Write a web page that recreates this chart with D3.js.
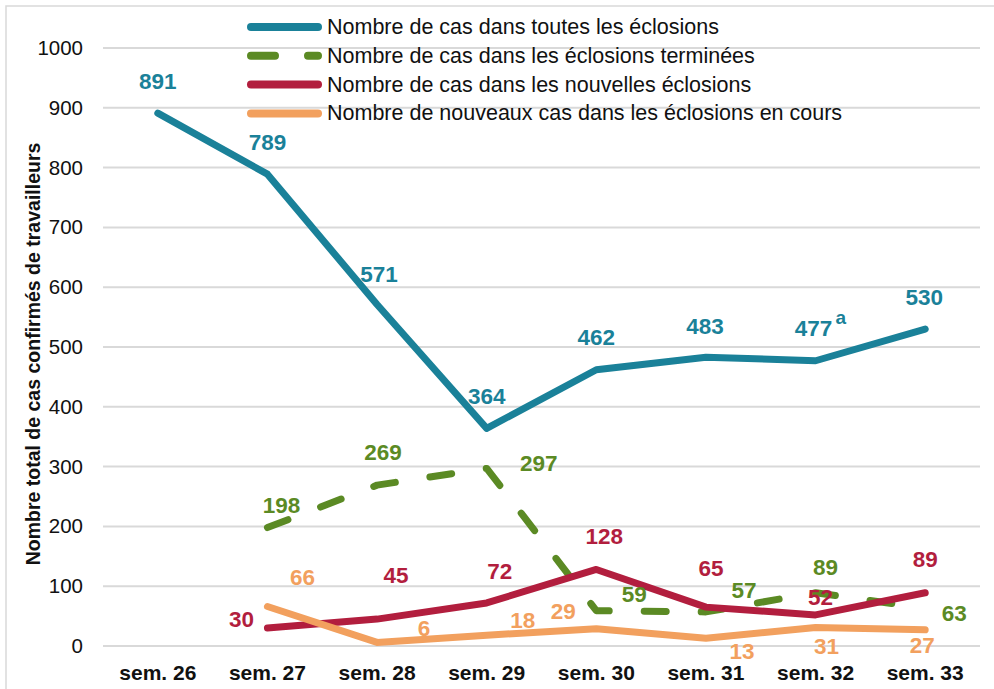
<!DOCTYPE html>
<html>
<head>
<meta charset="utf-8">
<script src="https://cdn.jsdelivr.net/npm/d3@7"></script>
<style>
  body { margin: 0; background: #fff; }
  svg { display: block; font-family: 'Liberation Sans', Arial, Helvetica, sans-serif; }
</style>
</head>
<body>
<div id="chart"></div>
<script>
// Data
var weeks = ['sem. 26', 'sem. 27', 'sem. 28', 'sem. 29', 'sem. 30', 'sem. 31', 'sem. 32', 'sem. 33']
var toutes = [891, 789, 571, 364, 462, 483, 477, 530]
var terminees = [null, 198, 269, 297, 59, 57, 89, 63]
var nouvelles = [null, 30, 45, 72, 128, 65, 52, 89]
var enCours = [null, 66, 6, 18, 29, 13, 31, 27]
var yTicks = [0, 100, 200, 300, 400, 500, 600, 700, 800, 900, 1000]

var seriesNames = [
  'Nombre de cas dans toutes les éclosions',
  'Nombre de cas dans les éclosions terminées',
  'Nombre de cas dans les nouvelles éclosions',
  'Nombre de nouveaux cas dans les éclosions en cours'
]

// label offsets (pixels, relative to each point)
var offToutes = [[0, -32], [0, -32], [2, -30], [0, -32], [0, -32], [-1, -31], [-2, -32], [-1, -32]]
var offTerminees = [null, [14, -22], [6, -33], [52, -5], [38, -16], [38, -21], [10, -25], [29, 5]]
var offNouvelles = [null, [-26, -9], [19, -44], [13, -31], [8, -33], [5, -39], [5, -17], [0, -33]]
var offEnCours = [null, [35, -29], [47, -14], [36, -15], [-33, -17], [36, 13], [11, 19], [-3, 16]]

var width = 994
var height = 689

var svg = d3
  .select('#chart')
  .append('svg')
  .attr('width', width)
  .attr('height', height)

// light frame around the chart
svg
  .append('rect')
  .attr('x', 6)
  .attr('y', 6)
  .attr('width', 1100)
  .attr('height', 800)
  .attr('fill', 'none')
  .attr('stroke', '#d9d9d9')
  .attr('stroke-width', 1.5)

var xPositionScale = d3.scaleBand().domain(weeks).range([103, 980])
var yPositionScale = d3.scaleLinear().domain([0, 1000]).range([646, 48])

var xc = d => xPositionScale(d) + xPositionScale.bandwidth() / 2

// gridlines
svg
  .selectAll('.grid')
  .data(yTicks)
  .enter()
  .append('line')
  .attr('class', 'grid')
  .attr('x1', 103)
  .attr('x2', 980)
  .attr('y1', d => yPositionScale(d))
  .attr('y2', d => yPositionScale(d))
  .attr('stroke', '#d9d9d9')
  .attr('stroke-width', 2)

// axes
var yAxis = d3
  .axisLeft(yPositionScale)
  .tickValues(yTicks)
  .tickFormat(d3.format('d'))
  .tickSize(0)
  .tickPadding(20)
var yg = svg
  .append('g')
  .attr('class', 'axis y-axis')
  .attr('transform', 'translate(103,0)')
  .call(yAxis)
yg.select('.domain').remove()
yg.selectAll('text').attr('font-size', 20.5).attr('font-family', null).attr('fill', '#111')

var xAxis = d3.axisBottom(xPositionScale).tickSize(0).tickPadding(19)
var xg = svg
  .append('g')
  .attr('class', 'axis x-axis')
  .attr('transform', 'translate(0,646)')
  .call(xAxis)
xg.select('.domain').remove()
xg.selectAll('text')
  .attr('font-size', 21)
  .attr('font-weight', 'bold')
  .attr('font-family', null)
  .attr('fill', '#111')

// y title
svg
  .append('text')
  .attr('transform', 'translate(40,354) rotate(-90)')
  .attr('text-anchor', 'middle')
  .attr('font-size', 19.5)
  .attr('font-weight', 'bold')
  .attr('fill', '#111')
  .text('Nombre total de cas confirmés de travailleurs')

var series = [
  { name: seriesNames[1], values: terminees, offsets: offTerminees, color: '#5b8a24', dash: '22,35' },
  { name: seriesNames[0], values: toutes, offsets: offToutes, color: '#1a8199', dash: null },
  { name: seriesNames[2], values: nouvelles, offsets: offNouvelles, color: '#b21e3e', dash: null },
  { name: seriesNames[3], values: enCours, offsets: offEnCours, color: '#f2a05e', dash: null }
]

var line = d3
  .line()
  .defined(d => d.v !== null)
  .x(d => xc(d.w))
  .y(d => yPositionScale(d.v))

series.forEach(s => {
  var pts = weeks.map((w, i) => ({ w: w, v: s.values[i] }))
  svg
    .append('path')
    .attr('d', line(pts))
    .attr('fill', 'none')
    .attr('stroke', s.color)
    .attr('stroke-width', 7)
    .attr('stroke-linecap', 'round')
    .attr('stroke-linejoin', 'round')
    .attr('stroke-dasharray', s.dash)
})

// data labels
series.forEach(s => {
  var pts = weeks
    .map((w, i) => ({ w: w, v: s.values[i], off: s.offsets[i] }))
    .filter(d => d.v !== null)
  svg
    .selectAll(null)
    .data(pts)
    .enter()
    .append('text')
    .attr('x', d => xc(d.w) + d.off[0])
    .attr('y', d => yPositionScale(d.v) + d.off[1])
    .attr('text-anchor', 'middle')
    .attr('dominant-baseline', 'central')
    .attr('font-size', 22.5)
    .attr('font-weight', 'bold')
    .attr('fill', s.color)
    .text(d => d.v)
})

// superscript "a" next to 477
svg
  .append('text')
  .attr('x', xc('sem. 32') + 20)
  .attr('y', yPositionScale(477) - 43)
  .attr('dominant-baseline', 'central')
  .attr('font-size', 19)
  .attr('font-weight', 'bold')
  .attr('fill', '#1a8199')
  .text('a')

// legend
var legendOrder = [series[1], series[0], series[2], series[3]]
var legend = svg
  .selectAll('.legend')
  .data(legendOrder)
  .enter()
  .append('g')
  .attr('class', 'legend')
  .attr('transform', (d, i) => `translate(0, ${27 + i * 28.8})`)

legend
  .append('line')
  .attr('x1', 251)
  .attr('x2', 318)
  .attr('stroke', d => d.color)
  .attr('stroke-width', 8)
  .attr('stroke-linecap', 'round')
  .attr('stroke-dasharray', d => (d.dash ? '24,33' : null))

legend
  .append('text')
  .attr('x', 327)
  .attr('dominant-baseline', 'central')
  .attr('font-size', 21.5)
  .attr('fill', '#111')
  .text(d => d.name)
</script>
</body>
</html>
